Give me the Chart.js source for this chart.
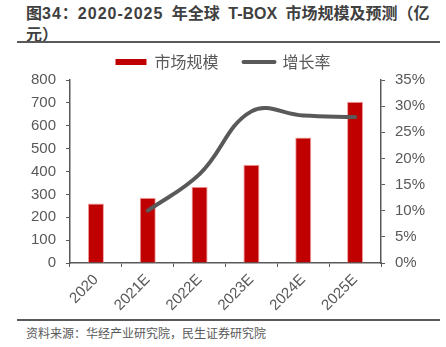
<!DOCTYPE html>
<html><head><meta charset="utf-8">
<script src="https://cdn.jsdelivr.net/npm/chart.js@4"></script>
<style>
html,body{margin:0;padding:0;background:#fff;}
body{width:446px;height:347px;position:relative;overflow:hidden;font-family:"Liberation Sans","Noto Sans CJK SC",sans-serif;}
#title{position:absolute;left:26px;top:3px;font-size:16px;font-weight:bold;line-height:21px;color:#404040;white-space:nowrap;word-spacing:4px;}
#title .d{letter-spacing:1px;}
.rule{position:absolute;left:17px;width:423px;height:2px;background:#595959;}
#src{position:absolute;left:26px;top:324px;font-size:12px;color:#595959;font-family:"Noto Sans CJK SC",sans-serif;}
#wrap{position:absolute;left:0;top:29px;width:446px;height:288px;}
</style></head><body>
<div id="title">图<span class="d">34</span>：<span class="d">2020-2025</span> 年全球 T-BOX 市场规模及预测（亿<br>元）</div>
<div class="rule" style="top:41px"></div>
<div class="rule" style="top:319px"></div>
<div id="src">资料来源：华经产业研究院，民生证券研究院</div>
<div id="wrap"><canvas id="c" width="446" height="288"></canvas></div>
<script>
const categories = ["2020","2021E","2022E","2023E","2024E","2025E"];
const marketSize = [260, 285, 333, 430, 549, 705];
const growthRate = [null, 10, 17, 29, 28.2, 27.9];
const seriesNames = ["市场规模", "增长率"];

const axisColor = "#595959";
const tickFont = {family:"Liberation Sans, Noto Sans CJK SC", size:15};

new Chart(document.getElementById("c"), {
  type: "bar",
  data: {
    labels: categories,
    datasets: [
      {type:"line", label: seriesNames[1], data: growthRate, yAxisID:"y1",
       borderColor:"#595959", backgroundColor:"#595959", borderWidth:4,
       borderCapStyle:"round", tension:0.4, pointRadius:0, order:0, spanGaps:true},
      {type:"bar", label: seriesNames[0], data: marketSize, yAxisID:"y",
       backgroundColor:"#C00000", borderColor:"#F2A0A0", borderWidth:{left:1,right:1,top:1,bottom:0},
       categoryPercentage:1, barPercentage:0.31, order:1}
    ]
  },
  options: {
    responsive:false, animation:false, devicePixelRatio:1,
    layout:{padding:{left:0,right:0,top:0,bottom:0}},
    plugins:{
      tooltip:{enabled:false},
      legend:{
        display:true, position:"top", reverse:true, maxHeight:54,
        labels:{boxWidth:31, boxHeight:6, padding:25, color:"#595959",
          usePointStyle:true, pointStyleWidth:31,
          font:{family:"Noto Sans CJK SC", size:16},
          generateLabels: chart => {
            const items = Chart.defaults.plugins.legend.labels.generateLabels(chart);
            items.forEach(it => {
              const ds = chart.data.datasets[it.datasetIndex];
              if (ds.type === "line") {
                it.pointStyle = "line"; it.lineWidth = 4; it.lineCap = "round";
                it.strokeStyle = "#595959";
              } else {
                it.pointStyle = "rect"; it.lineWidth = 0; it.fillStyle = "#C00000";
              }
            });
            return items;
          }
        }
      }
    },
    scales:{
      x:{
        offset:true,
        grid:{display:true, offset:true, drawOnChartArea:false, drawTicks:true, tickLength:4, color:axisColor},
        border:{display:true, color:axisColor, width:1.5},
        ticks:{color:"#595959", font:tickFont, minRotation:45, maxRotation:45, padding:4},
        afterFit: s => { s.height = 54; }
      },
      y:{
        position:"left", min:0, max:800,
        grid:{display:true, drawOnChartArea:false, drawTicks:true, tickLength:4, color:axisColor},
        border:{display:true, color:axisColor, width:1.5},
        ticks:{stepSize:100, color:"#595959", font:tickFont, padding:10},
        afterFit: s => { s.width = 70; }
      },
      y1:{
        position:"right", min:0, max:35,
        grid:{display:true, drawOnChartArea:false, drawTicks:true, tickLength:4, color:axisColor},
        border:{display:true, color:axisColor, width:1.5},
        ticks:{stepSize:5, color:"#595959", font:tickFont, padding:10, callback: v => v + "%"},
        afterFit: s => { s.width = 65; }
      }
    }
  }
});
</script>
</body></html>
